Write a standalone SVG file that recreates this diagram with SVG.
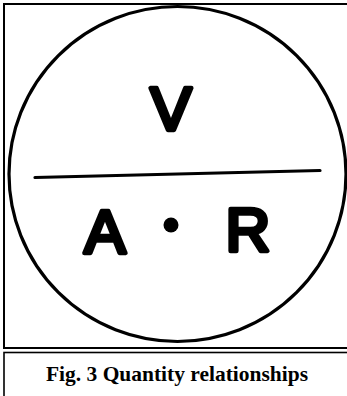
<svg xmlns="http://www.w3.org/2000/svg" width="347" height="396" viewBox="0 0 347 396">
<style>
.frame{fill:none;stroke:#000;stroke-width:2}
.big{font-family:"Liberation Sans",Arial,sans-serif;font-size:62px;fill:#000;stroke:#000;stroke-width:4.5;stroke-linejoin:round;stroke-linecap:round;text-anchor:middle}
.cap{font-family:"Liberation Serif","Times New Roman",serif;font-weight:bold;font-size:21px;fill:#000;text-anchor:middle}
</style>
<rect width="347" height="396" fill="#fff"/>
<g id="frame-top"><rect class="frame" x="4" y="4" width="360" height="344"/></g>
<g id="frame-caption"><rect class="frame" x="4" y="352.5" width="360" height="60" style="stroke-width:1.6"/></g>
<g id="circle"><ellipse cx="177.5" cy="174" rx="168.5" ry="167.5" fill="none" stroke="#000" stroke-width="3.2"/></g>
<g id="connectors"><line x1="35" y1="177.5" x2="320" y2="170.5" stroke="#000" stroke-width="3.2" stroke-linecap="round"/></g>
<g id="node-V"><text class="big" x="171" y="130">V</text></g>
<g id="node-A"><text class="big" x="105" y="253">A</text></g>
<g id="node-dot"><circle cx="171" cy="225" r="7.5" fill="#000"/></g>
<g id="node-R"><text class="big" x="248" y="251">R</text></g>
<g id="caption"><text class="cap" x="177" y="380.5" textLength="262" lengthAdjust="spacingAndGlyphs">Fig. 3 Quantity relationships</text></g>
</svg>
